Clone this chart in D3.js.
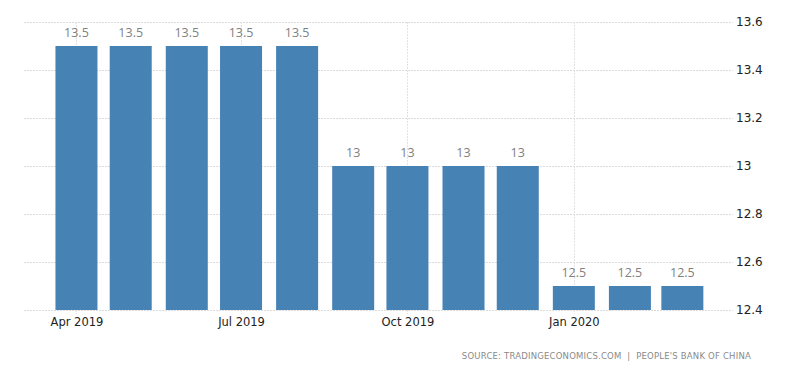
<!DOCTYPE html>
<html>
<head>
<meta charset="utf-8">
<script src="https://cdn.jsdelivr.net/npm/d3@7"></script>
<style>
  body { margin: 0; background: #fff; }
  svg { display: block; }
</style>
</head>
<body>
<svg id="chart" width="800" height="373"></svg>
<script>
// reserve requirement ratio, monthly
const months = ["2019-04-01", "2019-05-01", "2019-06-01", "2019-07-01", "2019-08-01", "2019-09-01",
                "2019-10-01", "2019-11-01", "2019-12-01", "2020-01-01", "2020-02-01", "2020-03-01"]
const values = [13.5, 13.5, 13.5, 13.5, 13.5, 13, 13, 13, 13, 12.5, 12.5, 12.5]
const yTicks = [12.4, 12.6, 12.8, 13, 13.2, 13.4, 13.6]
const xTicks = ["2019-04-01", "2019-07-01", "2019-10-01", "2020-01-01"]
const source = "SOURCE: TRADINGECONOMICS.COM  |  PEOPLE'S BANK OF CHINA"

var parse = d3.utcParse("%Y-%m-%d");
var data = months.map((m, i) => ({ date: parse(m), value: values[i] }));

var margin = { left: 24, right: 67, top: 22, bottom: 63 };
var width = 800, height = 373;
var barWidth = 42;

var x = d3.scaleUtc()
    .domain([parse("2019-03-03"), parse("2020-03-29")])
    .range([margin.left, width - margin.right]);

var y = d3.scaleLinear()
    .domain([12.4, 13.6])
    .range([height - margin.bottom, margin.top]);

var svg = d3.select('#chart');

// horizontal grid
svg.append('g')
    .selectAll('line')
    .data(yTicks)
    .enter()
    .append('line')
    .attr('x1', margin.left)
    .attr('x2', width - margin.right)
    .attr('y1', d => Math.round(y(d)) + 0.5)
    .attr('y2', d => Math.round(y(d)) + 0.5)
    .style('stroke', '#dcdcdc')
    .style('stroke-dasharray', '2,1');

// vertical grid
svg.append('g')
    .selectAll('line')
    .data(xTicks)
    .enter()
    .append('line')
    .attr('x1', d => Math.round(x(parse(d))) + 0.5)
    .attr('x2', d => Math.round(x(parse(d))) + 0.5)
    .attr('y1', margin.top)
    .attr('y2', height - margin.bottom + 4)
    .style('stroke', '#e2e2e2')
    .style('stroke-dasharray', '2,1');

// bars
svg.append('g')
    .selectAll('rect')
    .data(data)
    .enter()
    .append('rect')
    .attr('x', d => x(d.date) - barWidth / 2)
    .attr('y', d => y(d.value))
    .attr('width', barWidth)
    .attr('height', d => y(12.4) - y(d.value))
    .style('fill', '#4682b4');

// value labels
svg.append('g')
    .selectAll('text')
    .data(data)
    .enter()
    .append('text')
    .attr('x', d => x(d.date))
    .attr('y', d => y(d.value) - 9)
    .attr('text-anchor', 'middle')
    .style('font-family', '"Open Sans", sans-serif')
    .style('font-size', '12.5px')
    .style('fill', '#808080')
    .text(d => d.value);

// right axis
var yAxis = d3.axisRight(y)
    .tickValues(yTicks)
    .tickSize(0)
    .tickPadding(3)
    .tickFormat(d3.format('~g'));

svg.append('g')
    .attr('transform', 'translate(' + (width - margin.right) + ',0)')
    .call(yAxis)
    .call(g => g.select('.domain').remove())
    .selectAll('text')
    .style('font-family', '"DejaVu Sans", sans-serif')
    .style('font-size', '12px')
    .style('fill', '#222');

// bottom axis
var xAxis = d3.axisBottom(x)
    .tickValues(xTicks.map(parse))
    .tickSize(0)
    .tickPadding(8)
    .tickFormat(d3.utcFormat('%b %Y'));

svg.append('g')
    .attr('transform', 'translate(0,' + (height - margin.bottom) + ')')
    .call(xAxis)
    .call(g => g.select('.domain').remove())
    .selectAll('text')
    .style('font-family', '"DejaVu Sans", sans-serif')
    .style('font-size', '11.5px')
    .style('fill', '#222');

// source
svg.append('text')
    .attr('x', 751)
    .attr('y', 359)
    .attr('text-anchor', 'end')
    .attr('xml:space', 'preserve')
    .style('white-space', 'pre')
    .style('font-family', '"DejaVu Sans", sans-serif')
    .style('font-size', '8.5px')
    .style('letter-spacing', '0.2px')
    .style('fill', '#8a8a8a')
    .text(source);
</script>
</body>
</html>
